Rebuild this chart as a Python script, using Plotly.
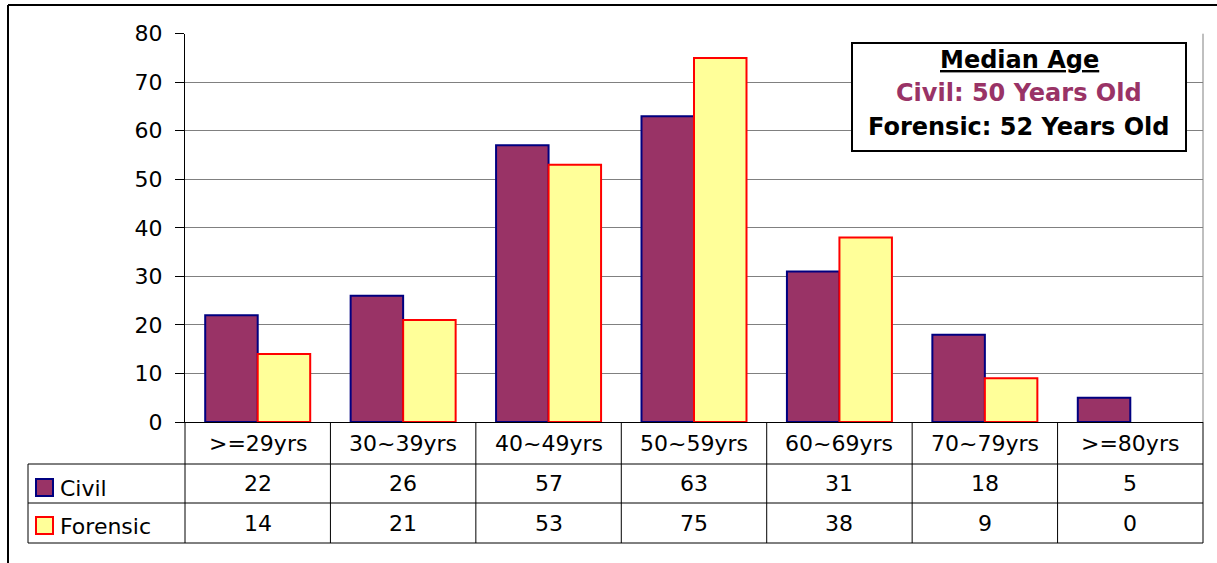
import plotly.graph_objects as go

# Age-group distribution of civil and forensic cases
categories = [">=29yrs", "30~39yrs", "40~49yrs", "50~59yrs", "60~69yrs", "70~79yrs", ">=80yrs"]
civil = [22, 26, 57, 63, 31, 18, 5]
forensic = [14, 21, 53, 75, 38, 9, 0]
series_names = ["Civil", "Forensic"]
median_title = "Median Age"
median_civil = "Civil: 50 Years Old"
median_forensic = "Forensic: 52 Years Old"

W, H = 1217, 563
FONT = "DejaVu Sans, Verdana, sans-serif"
FS = 22
CIVIL_FILL, CIVIL_LINE = "#993366", "#000080"
FOR_FILL, FOR_LINE = "#FFFF99", "#FF0000"


def px(x):
    return x / W


def py(y):
    return 1 - y / H


def outline_widths(values, w=2):
    # empty bars get no outline
    return [w if v else 0 for v in values]


# plot area in pixels
X0, X1 = 185, 1203
Y0, Y1 = 33.7, 422
ROW1, ROW2, ROW3 = 464, 503, 543
TABLE_LEFT = 28

fig = go.Figure()
fig.add_bar(x=categories, y=civil, name=series_names[0],
            marker=dict(color=CIVIL_FILL,
                        line=dict(color=CIVIL_LINE, width=outline_widths(civil))))
fig.add_bar(x=categories, y=forensic, name=series_names[1],
            marker=dict(color=FOR_FILL,
                        line=dict(color=FOR_LINE, width=outline_widths(forensic))))

shapes = []
ann = []


def text(x, y, s, xref="paper", xanchor="center", size=FS, color="black"):
    ann.append(dict(x=x, y=y, xref=xref, yref="paper", text=s, showarrow=False,
                    xanchor=xanchor, yanchor="middle",
                    font=dict(size=size, color=color, family=FONT)))


# outer chart frame (top and left edges)
shapes.append(dict(type="line", xref="paper", yref="paper", x0=px(8), x1=px(W + 5),
                   y0=py(5), y1=py(5), line=dict(color="black", width=2)))
shapes.append(dict(type="line", xref="paper", yref="paper", x0=px(8), x1=px(8),
                   y0=py(5), y1=py(H + 5), line=dict(color="black", width=2)))

# plot area border (right side)
shapes.append(dict(type="line", xref="paper", yref="paper", x0=px(X1), x1=px(X1),
                   y0=py(Y0), y1=py(Y1), line=dict(color="#808080", width=1)))

# data table grid
n = len(categories)
cw = (X1 - X0) / n
for yy in (ROW1, ROW2, ROW3):
    shapes.append(dict(type="line", xref="paper", yref="paper", x0=px(TABLE_LEFT), x1=px(X1),
                       y0=py(yy), y1=py(yy), line=dict(color="black", width=1)))
for i in range(n + 1):
    xx = X0 + i * cw
    shapes.append(dict(type="line", xref="paper", yref="paper", x0=px(xx), x1=px(xx),
                       y0=py(Y1), y1=py(ROW3), line=dict(color="black", width=1)))
shapes.append(dict(type="line", xref="paper", yref="paper", x0=px(TABLE_LEFT), x1=px(TABLE_LEFT),
                   y0=py(ROW1), y1=py(ROW3), line=dict(color="black", width=1)))

# table cells: category labels and values
for i, c in enumerate(categories):
    text(c, py((Y1 + ROW1) / 2), c, xref="x")
    text(c, py((ROW1 + ROW2) / 2), str(civil[i]), xref="x")
    text(c, py((ROW2 + ROW3) / 2), str(forensic[i]), xref="x")

# legend keys inside the table
for (ytop, fill, line, name) in [(479, CIVIL_FILL, CIVIL_LINE, series_names[0]),
                                 (517, FOR_FILL, FOR_LINE, series_names[1])]:
    shapes.append(dict(type="rect", xref="paper", yref="paper", x0=px(36), x1=px(53),
                       y0=py(ytop), y1=py(ytop + 17), fillcolor=fill,
                       line=dict(color=line, width=2)))
    text(px(58), py(ytop + 9), name, xanchor="left")

# median age box
shapes.append(dict(type="rect", xref="paper", yref="paper", x0=px(852), x1=px(1186),
                   y0=py(43), y1=py(151), fillcolor="white",
                   line=dict(color="black", width=2)))
cx = px(1019)
text(cx, py(60), "<b><u>" + median_title + "</u></b>", size=24)
text(cx, py(93), "<b>" + median_civil + "</b>", size=24, color=CIVIL_FILL)
text(cx, py(127), "<b>" + median_forensic + "</b>", size=24)

fig.update_layout(
    width=W, height=H,
    margin=dict(l=0, r=0, t=0, b=0),
    paper_bgcolor="white", plot_bgcolor="white",
    showlegend=False,
    barmode="group", bargap=0.278, bargroupgap=0,
    shapes=shapes, annotations=ann,
    xaxis=dict(domain=[px(X0), px(X1)], range=[-0.5, n - 0.5], showticklabels=False,
               showgrid=False, showline=True, linecolor="black", linewidth=1,
               ticks="", zeroline=False, automargin=False),
    yaxis=dict(domain=[py(Y1), py(Y0)], range=[0, 80], dtick=10,
               showgrid=True, gridcolor="#808080", gridwidth=1,
               showline=True, linecolor="black", linewidth=1,
               ticks="outside", ticklen=9, tickcolor="black", ticklabelstandoff=8,
               tickfont=dict(size=FS, color="black", family=FONT), zeroline=False,
               automargin=False),
)

fig.write_html("out.html")
